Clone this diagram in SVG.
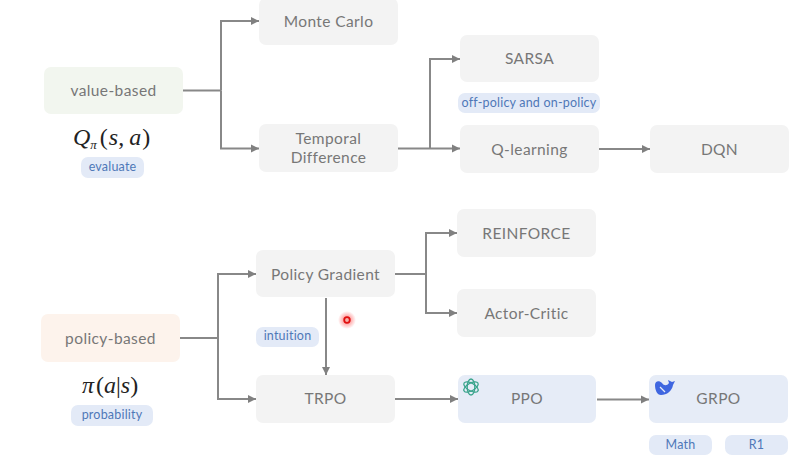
<svg xmlns="http://www.w3.org/2000/svg" width="800" height="472" viewBox="0 0 800 472">
<style>
.n{fill:#f3f3f3}
.b{fill:#e6ecf7}
.g{fill:#f2f6ef}
.o{fill:#fdf3ec}
.t{font-family:"Lato","Noto Sans",sans-serif;font-size:15.500px;fill:#777;text-anchor:middle;letter-spacing:.4px}
.p{fill:#e3eaf7}
.l{font-family:"Lato","Noto Sans",sans-serif;font-size:12.500px;fill:#4f78b8;text-anchor:middle;letter-spacing:.2px}
.m{font-family:"Liberation Serif",serif;font-size:24px;fill:#222}
.c{fill:none;stroke:#888;stroke-width:2}
.e{fill:none;stroke:#888;stroke-width:2;marker-end:url(#a)}
</style>
<defs>
<marker id="a" markerUnits="userSpaceOnUse" markerWidth="9" markerHeight="10" refX="8" refY="5" orient="auto"><path d="M0 1L8 5L0 9z" fill="#808080"/></marker>
<radialGradient id="r"><stop offset="0" stop-color="#f33" stop-opacity=".7"/><stop offset="1" stop-color="#f33" stop-opacity="0"/></radialGradient>
</defs>
<rect width="800" height="472" fill="#fff"/>
<g id="connectors">
<path class="c" d="M183 90.500H221"/>
<path class="e" d="M221 90.500V21H259"/>
<path class="e" d="M221 90.500V148.500H259"/>
<path class="e" d="M398 148.500H460"/>
<path class="e" d="M430 148.500V59H460"/>
<path class="e" d="M599 149H650"/>
<path class="c" d="M395 274H426"/>
<path class="e" d="M426 274V233H457"/>
<path class="e" d="M426 274V313H457"/>
<path class="c" d="M180 338H218"/>
<path class="e" d="M218 338V274H256"/>
<path class="e" d="M218 338V399H256"/>
<path class="e" d="M326 298V375"/>
<path class="e" d="M395 399H458"/>
<path class="e" d="M597 399.500H649"/>
</g>
<g id="value-based"><rect class="g" x="44" y="67" width="139" height="47" rx="7"/><text class="t" x="113.500" y="96">value-based</text></g>
<g id="q-formula"><text class="m" x="73" y="145" font-style="italic">Q<tspan font-size="13" dy="4">π</tspan><tspan dy="-4" dx="3" font-style="normal">(</tspan><tspan dx="1">s</tspan><tspan font-style="normal">,</tspan><tspan dx="5">a</tspan><tspan dx="1" font-style="normal">)</tspan></text></g>
<g id="evaluate"><rect class="p" x="81" y="157" width="63" height="21" rx="7"/><text class="l" x="112.500" y="171">evaluate</text></g>
<g id="monte-carlo"><rect class="n" x="259" y="-2" width="139" height="47" rx="7"/><text class="t" x="328.500" y="27">Monte Carlo</text></g>
<g id="temporal-difference"><rect class="n" x="259" y="124" width="139" height="48" rx="7"/><text class="t" x="328.500" y="144">Temporal</text><text class="t" x="328.500" y="163">Difference</text></g>
<g id="sarsa"><rect class="n" x="460" y="35" width="139" height="47" rx="7"/><text class="t" x="529.500" y="64">SARSA</text></g>
<g id="off-on-policy"><rect class="p" x="458" y="93" width="142" height="20" rx="7"/><text class="l" x="529" y="107" letter-spacing="0">off-policy and on-policy</text></g>
<g id="q-learning"><rect class="n" x="460" y="125" width="139" height="48" rx="7"/><text class="t" x="529.500" y="155">Q-learning</text></g>
<g id="dqn"><rect class="n" x="650" y="125" width="139" height="48" rx="7"/><text class="t" x="719.500" y="155">DQN</text></g>
<g id="reinforce"><rect class="n" x="457" y="209" width="139" height="48" rx="7"/><text class="t" x="526.500" y="239">REINFORCE</text></g>
<g id="actor-critic"><rect class="n" x="457" y="289" width="139" height="48" rx="7"/><text class="t" x="526.500" y="319">Actor-Critic</text></g>
<g id="policy-gradient"><rect class="n" x="256" y="250" width="139" height="47" rx="7"/><text class="t" x="325.500" y="280">Policy Gradient</text></g>
<g id="intuition"><rect class="p" x="256" y="327" width="63" height="20" rx="7"/><text class="l" x="287.500" y="340">intuition</text></g>
<g id="policy-based"><rect class="o" x="41" y="314" width="139" height="48" rx="7"/><text class="t" x="110.500" y="344">policy-based</text></g>
<g id="pi-formula"><text class="m" x="82" y="393" font-style="italic">π<tspan dx="2" font-style="normal">(</tspan>a<tspan font-style="normal">|</tspan>s<tspan font-style="normal">)</tspan></text></g>
<g id="probability"><rect class="p" x="71" y="405" width="82" height="21" rx="7"/><text class="l" x="112" y="419">probability</text></g>
<g id="trpo"><rect class="n" x="256" y="375" width="139" height="48" rx="7"/><text class="t" x="325.500" y="404">TRPO</text></g>
<g id="ppo"><rect class="b" x="458" y="375" width="138" height="48" rx="7"/><text class="t" x="527" y="404">PPO</text>
<g fill="none" stroke="#3aa48c" stroke-width="1.300"><ellipse cx="471" cy="387" rx="8" ry="3.800" transform="rotate(30 471 387)"/><ellipse cx="471" cy="387" rx="8" ry="3.800" transform="rotate(90 471 387)"/><ellipse cx="471" cy="387" rx="8" ry="3.800" transform="rotate(150 471 387)"/></g></g>
<g id="grpo"><rect class="b" x="649" y="375" width="139" height="48" rx="7"/><text class="t" x="718.500" y="404">GRPO</text>
<path d="M655 385C655 381 659 380 662 383C664 386 667 386 669 383L668 380L672 382L675 381L673 385C672 391 667 395 661 395C657 395 655 390 655 385Z" fill="#3f66e0"/><path d="M660 387L665 392" stroke="#e6ecf7" stroke-width="1.200"/></g>
<g id="math"><rect class="p" x="649" y="435" width="63" height="20" rx="7"/><text class="l" x="680.500" y="449">Math</text></g>
<g id="r1"><rect class="p" x="725" y="435" width="63" height="20" rx="7"/><text class="l" x="756.500" y="449">R1</text></g>
<g id="pointer"><circle cx="347" cy="320" r="9" fill="url(#r)"/><circle cx="347" cy="320" r="2.800" fill="#f4b0a8" stroke="#e01010" stroke-width="1.800"/></g>
</svg>
